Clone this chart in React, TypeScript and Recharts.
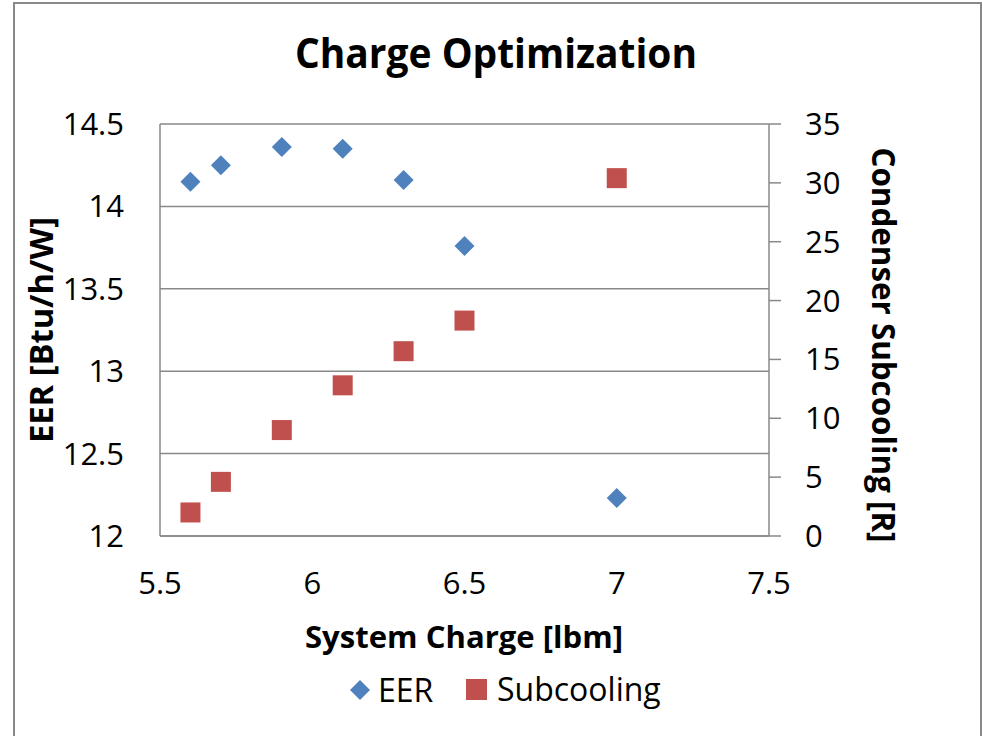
import React from 'react';
import { ScatterChart, Scatter, XAxis, YAxis, CartesianGrid } from 'recharts';

// ---- data ----
const charge = [5.6, 5.7, 5.9, 6.1, 6.3, 6.5, 7.0];
const eerValues = [14.15, 14.25, 14.36, 14.35, 14.16, 13.76, 12.23];
const subcoolingValues = [2.0, 4.6, 9.0, 12.8, 15.7, 18.3, 30.4];

const xTicks = [5.5, 6, 6.5, 7, 7.5];
const leftTicks = [12, 12.5, 13, 13.5, 14, 14.5];
const rightTicks = [0, 5, 10, 15, 20, 25, 30, 35];

const eerData = charge.map((x, i) => ({ x, y: eerValues[i] }));
const subData = charge.map((x, i) => ({ x, y: subcoolingValues[i] }));

const FONT = "'Open Sans', 'DejaVu Sans', sans-serif";
const GRID = '#898989';
const BLUE = '#4F81BD';
const RED = '#C0504D';

const Diamond = (props: any) => {
  const { cx, cy } = props;
  if (cx == null || cy == null) return null;
  const r = 10;
  return (
    <polygon
      points={`${cx},${cy - r} ${cx + r},${cy} ${cx},${cy + r} ${cx - r},${cy}`}
      fill={BLUE}
    />
  );
};

const Square = (props: any) => {
  const { cx, cy } = props;
  if (cx == null || cy == null) return null;
  const h = 10;
  return <rect x={cx - h} y={cy - h} width={2 * h} height={2 * h} fill={RED} />;
};

export default function App() {
  return (
    <div
      style={{
        position: 'absolute',
        left: 0,
        top: 0,
        width: 982,
        height: 736,
        overflow: 'hidden',
        background: '#fff',
      }}
    >
      <ScatterChart
        width={982}
        height={736}
        margin={{ top: 124, right: 0, bottom: 140, left: 0 }}
        style={{ fontFamily: FONT }}
      >
        <rect x={14} y={3} width={967} height={760} fill="none" stroke={GRID} strokeWidth={2} />
        <CartesianGrid vertical={false} stroke={GRID} strokeWidth={1.5} yAxisId="left" />
        <XAxis
          type="number"
          dataKey="x"
          domain={[5.5, 7.5]}
          ticks={xTicks}
          height={60}
          tickSize={0}
          tickMargin={36}
          tickLine={false}
          axisLine={{ stroke: GRID, strokeWidth: 1.5 }}
          tick={{ fill: '#000', fontSize: 31, fontFamily: FONT }}
          allowDataOverflow
        />
        <YAxis
          yAxisId="left"
          orientation="left"
          type="number"
          dataKey="y"
          domain={[12, 14.5]}
          ticks={leftTicks}
          width={160}
          tickSize={0}
          tickMargin={36}
          tickLine={false}
          axisLine={{ stroke: GRID, strokeWidth: 1.5 }}
          tick={{ fill: '#000', fontSize: 31, fontFamily: FONT }}
          allowDataOverflow
        />
        <YAxis
          yAxisId="right"
          orientation="right"
          type="number"
          dataKey="y"
          domain={[0, 35]}
          ticks={rightTicks}
          width={213}
          tickSize={12}
          tickMargin={24}
          tickLine={{ stroke: GRID, strokeWidth: 1.5 }}
          axisLine={{ stroke: GRID, strokeWidth: 1.5 }}
          tick={{ fill: '#000', fontSize: 31, fontFamily: FONT, textAnchor: 'start' }}
          allowDataOverflow
        />
        <Scatter
          name="EER"
          data={eerData}
          yAxisId="left"
          fill={BLUE}
          shape={<Diamond />}
          isAnimationActive={false}
        />
        <Scatter
          name="Subcooling"
          data={subData}
          yAxisId="right"
          fill={RED}
          shape={<Square />}
          isAnimationActive={false}
        />
        <text
          x={496}
          y={68}
          textAnchor="middle"
          fontFamily={FONT}
          fontWeight="bold"
          fontSize={41}
          textLength={402}
          lengthAdjust="spacingAndGlyphs"
          fill="#000"
        >
          Charge Optimization
        </text>
        <text
          x={464}
          y={648}
          textAnchor="middle"
          fontFamily={FONT}
          fontWeight="bold"
          fontSize={31}
          textLength={318}
          lengthAdjust="spacingAndGlyphs"
          fill="#000"
        >
          System Charge [lbm]
        </text>
        <text
          x={53}
          y={330}
          transform="rotate(-90 53 330)"
          textAnchor="middle"
          fontFamily={FONT}
          fontWeight="bold"
          fontSize={32}
          textLength={226}
          lengthAdjust="spacingAndGlyphs"
          fill="#000"
        >
          EER [Btu/h/W]
        </text>
        <text
          x={872}
          y={345}
          transform="rotate(90 872 345)"
          textAnchor="middle"
          fontFamily={FONT}
          fontWeight="bold"
          fontSize={32}
          textLength={395}
          lengthAdjust="spacingAndGlyphs"
          fill="#000"
        >
          Condenser Subcooling [R]
        </text>
        <g>
          <polygon points="360,680 370,690 360,700 350,690" fill={BLUE} />
          <text x={378} y={702} fontFamily={FONT} fontSize={32} fill="#000">
            EER
          </text>
          <rect x={466} y={679} width={21} height={21} fill={RED} />
          <text x={497} y={701} fontFamily={FONT} fontSize={32} fill="#000">
            Subcooling
          </text>
        </g>
      </ScatterChart>
    </div>
  );
}
